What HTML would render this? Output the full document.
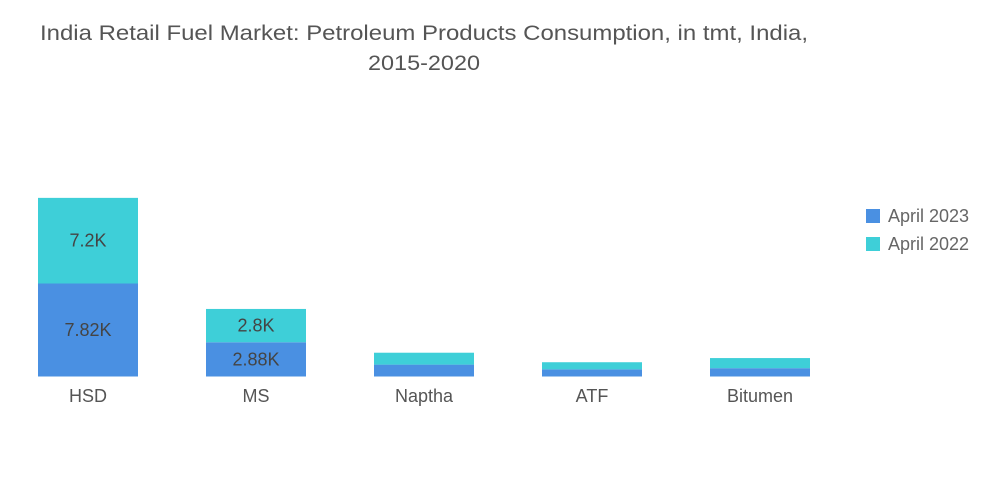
<!DOCTYPE html>
<html><head><meta charset="utf-8"><style>
html,body{margin:0;padding:0;background:#fff;}
svg{display:block;font-family:"Liberation Sans",sans-serif;}
</style></head><body>
<svg id="chart" width="1000" height="504" viewBox="0 0 1000 504">
<text x="424" y="40" font-size="21" fill="#555" text-anchor="middle" textLength="768" lengthAdjust="spacingAndGlyphs">India Retail Fuel Market: Petroleum Products Consumption, in tmt, India,</text>
<text x="424" y="70" font-size="21" fill="#555" text-anchor="middle" textLength="112" lengthAdjust="spacingAndGlyphs">2015-2020</text>
<g>
<rect x="866" y="209" width="14" height="14" fill="#4a90e2"/>
<text x="888" y="222" font-size="18" fill="#666">April 2023</text>
<rect x="866" y="237" width="14" height="14" fill="#3ecfd8"/>
<text x="888" y="250" font-size="18" fill="#666">April 2022</text>
</g>
<g id="bars"></g>
</svg>
<script>
const categories = ["HSD","MS","Naptha","ATF","Bitumen"];
const apr2023 = [7.82, 2.88, 1.0, 0.6, 0.7];
const apr2022 = [7.2, 2.8, 1.0, 0.6, 0.85];
const labels2023 = ["7.82K","2.88K","","",""];
const labels2022 = ["7.2K","2.8K","","",""];

const NS = "http://www.w3.org/2000/svg";
const baseY = 376.5, pxPerK = 93/7.82;
const y = v => baseY - v*pxPerK;
const h = v => v*pxPerK;
const xBand = i => 38 + i*168;
const bw = 100;
const g = document.getElementById("bars");
function mk(tag, attrs){const e=document.createElementNS(NS,tag);for(const k in attrs)e.setAttribute(k,attrs[k]);return e;}
categories.forEach((c,i)=>{
  const x = xBand(i);
  const r1 = mk("rect",{x:x,y:y(apr2023[i]),width:bw,height:h(apr2023[i]),fill:"#4a90e2"});
  
  
  g.appendChild(r1);
  const top = apr2023[i]+apr2022[i];
  const r2 = mk("rect",{x:x,y:y(top),width:bw,height:h(apr2022[i]),fill:"#3ecfd8"});
  
  
  g.appendChild(r2);
  if(labels2023[i]){
    const t = mk("text",{x:x+bw/2,y:y(apr2023[i]/2)+6,"font-size":"18",fill:"#444","text-anchor":"middle"});
    t.textContent = labels2023[i];
    
    
    g.appendChild(t);
  }
  if(labels2022[i]){
    const t = mk("text",{x:x+bw/2,y:y(apr2023[i]+apr2022[i]/2)+6,"font-size":"18",fill:"#444","text-anchor":"middle"});
    t.textContent = labels2022[i];
    
    
    g.appendChild(t);
  }
  const xl = mk("text",{x:x+bw/2,y:402,"font-size":"18",fill:"#555","text-anchor":"middle"});
  xl.textContent = c;
  
  
  g.appendChild(xl);
});
</script>
</body></html>
